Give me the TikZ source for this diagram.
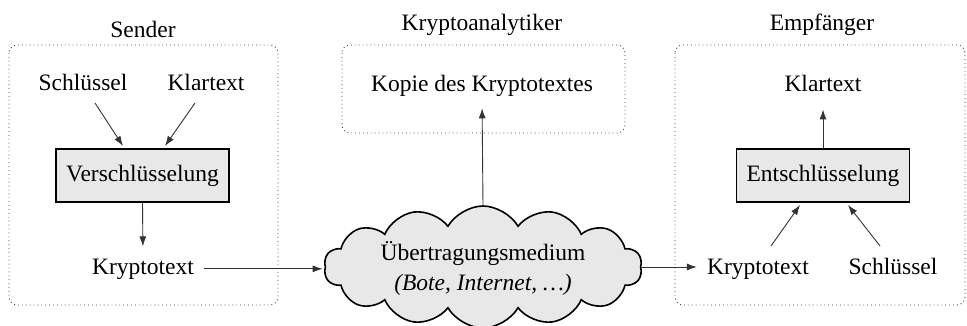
\documentclass[tikz,border=0pt]{standalone}
\usepackage{fontspec}
\setmainfont{Liberation Serif}
\usetikzlibrary{shapes.symbols,arrows.meta}
\begin{document}
\begin{tikzpicture}[x=1pt,y=-1pt,
  every node/.style={font=\fontsize{23.5}{27}\selectfont, inner sep=2pt},
  txt/.style={anchor=base},
  area/.style={draw=black!75, line width=0.9pt, dash pattern=on 0.9pt off 3pt, rounded corners=8pt},
  proc/.style={draw=black, line width=1.6pt, fill=black!9, minimum width=173pt, minimum height=53pt, inner sep=0pt},
  conn/.style={draw=black!80, line width=0.9pt, -{Latex[length=10pt,width=7pt]}},
  cloudnode/.style={cloud, cloud puffs=14, cloud puff arc=120, aspect=2.6, draw=black, line width=1.6pt, fill=black!9, minimum width=318pt, minimum height=122pt, align=center, inner sep=0pt}
]
\useasboundingbox (0,0) rectangle (967,325);
% areas
\draw[area] (9,45) rectangle (278,305);
\draw[area] (342,45) rectangle (625,133);
\draw[area] (675,45) rectangle (965,305);
% titles
\node[txt] (tsender) at (143,37) {Sender};
\node[txt] (tkrypt) at (482,30) {Kryptoanalytiker};
\node[txt] (tempf) at (822,30) {Empfänger};
% sender
\node[txt] (sschl) at (83,90) {Schlüssel};
\node[txt] (sklar) at (206,90) {Klartext};
\node[proc] (enc) at (142.5,175.5) {Verschlüsselung};
\node[txt] (skrypt) at (143,274) {Kryptotext};
% medium
\node[cloudnode] (med) at (483,267) {};
\node[txt] (medt1) at (483,260) {Übertragungsmedium};
\node[txt] (medt2) at (483,290) {\textit{(Bote, Internet, \dots)}};
\node[txt] (kopie) at (482,91) {Kopie des Kryptotextes};
% receiver
\node[txt] (rklar) at (823,91) {Klartext};
\node[proc] (dec) at (823,175.5) {Entschlüsselung};
\node[txt] (rkrypt) at (758,274) {Kryptotext};
\node[txt] (rschl) at (893,274) {Schlüssel};
% free ends
\coordinate (a1s) at (95,103);  \coordinate (a1e) at (123,146);
\coordinate (a2s) at (195,103); \coordinate (a2e) at (165,146);
\coordinate (a3s) at (771,246); \coordinate (a3e) at (800,205);
\coordinate (a4s) at (880,246); \coordinate (a4e) at (848,205);
% connectors
\draw[conn] (a1s) -- (a1e);
\draw[conn] (a2s) -- (a2e);
\draw[conn, shorten >=10pt] (enc.south) -- (skrypt.north);
\draw[conn, shorten <=8pt, shorten >=2pt] (skrypt.east) -- (skrypt.east -| med.west);
\draw[conn, shorten >=10pt] (med.north) -- (kopie.south);
\draw[conn, shorten >=8pt] (med.east) -- (med.east -| rkrypt.west);
\draw[conn] (a3s) -- (a3e);
\draw[conn] (a4s) -- (a4e);
\draw[conn, shorten >=16pt] (dec.north) -- (rklar.south);
\end{tikzpicture}
\end{document}
